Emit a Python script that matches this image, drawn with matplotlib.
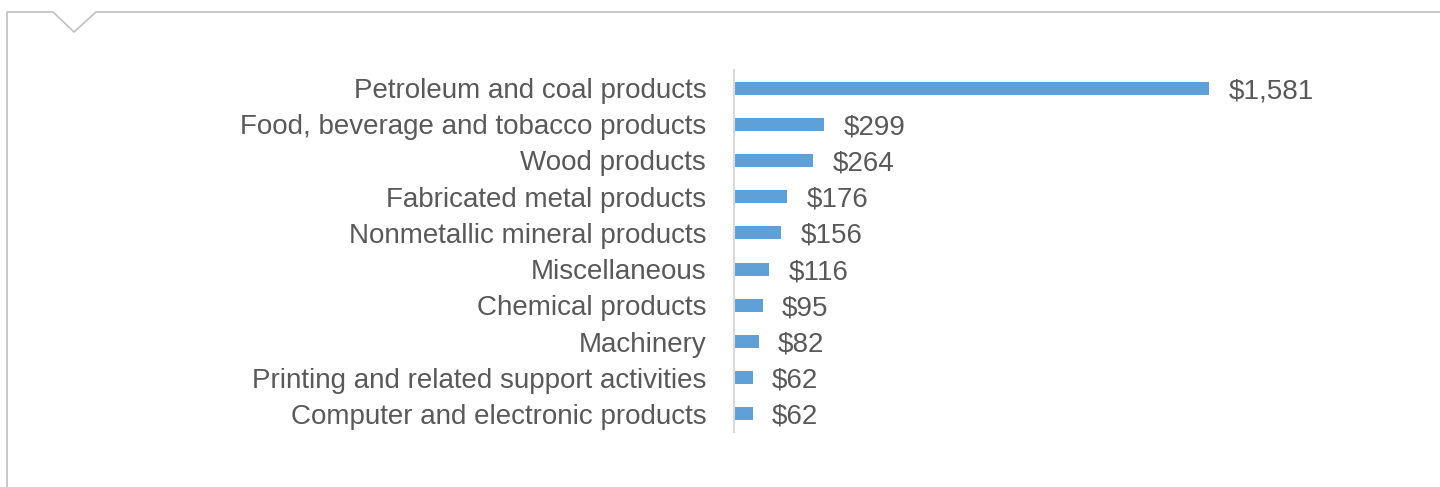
import matplotlib
matplotlib.use('Agg')
import matplotlib.pyplot as plt
from matplotlib.lines import Line2D

categories = [
    'Petroleum and coal products',
    'Food, beverage and tobacco products',
    'Wood products',
    'Fabricated metal products',
    'Nonmetallic mineral products',
    'Miscellaneous',
    'Chemical products',
    'Machinery',
    'Printing and related support activities',
    'Computer and electronic products',
]
values = [1581, 299, 264, 176, 156, 116, 95, 82, 62, 62]

plt.rcParams['font.family'] = ['Liberation Sans', 'DejaVu Sans']
text_color = '#595959'

W, H = 1440, 487
fig = plt.figure(figsize=(W / 100, H / 100), dpi=100)
fig.patch.set_facecolor('white')

# axes box in pixels: left 734, right 1410, top 70, bottom 432
ax = fig.add_axes([734 / W, 1 - 432 / H, (1410 - 734) / W, (432 - 70) / H])
y_pos = list(range(len(categories)))
ax.barh(y_pos, values, height=0.36, color='#5fa0d8')
ax.set_ylim(len(categories) - 0.5, -0.5)
ax.set_xlim(0, 676 / 0.3006)

ax.set_yticks(y_pos)
ax.set_yticklabels(categories, fontsize=20, color=text_color, va='center_baseline')
ax.tick_params(axis='y', length=0, pad=20)
ax.set_xticks([])

for spine in ['top', 'right', 'bottom']:
    ax.spines[spine].set_visible(False)
ax.spines['left'].set_color('#d9d9d9')
ax.spines['left'].set_linewidth(1.5)

for y, v in zip(y_pos, values):
    ax.annotate(f'${v:,}', xy=(v, y), xytext=(14, 0), textcoords='offset points',
                va='center_baseline', ha='left', fontsize=20, color=text_color)

# outer frame with notch at top-left
def fx(px):
    return px / W

def fy(py):
    return 1 - py / H

frame_x = [fx(7), fx(7), fx(53), fx(74), fx(96), fx(1440)]
frame_y = [fy(487), fy(12), fy(12), fy(32), fy(12), fy(12)]
fig.add_artist(Line2D(frame_x, frame_y, transform=fig.transFigure,
                      color='#c0c0c0', linewidth=1.2))

plt.savefig('out.png', dpi=100)
plt.close(fig)
